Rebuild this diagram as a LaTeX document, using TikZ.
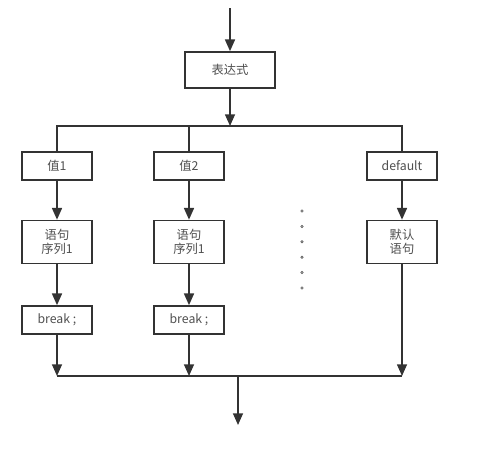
\documentclass[tikz,border=0pt]{standalone}
\usepackage{fontspec}
\setmainfont{Noto Sans CJK SC}
\usepackage{tikz}
\usetikzlibrary{arrows.meta,positioning}
\definecolor{linegray}{RGB}{51,51,51}
\definecolor{textgray}{RGB}{80,80,80}

\begin{document}
\begin{tikzpicture}[x=0.03cm, y=-0.03cm,
  box/.style={rectangle, draw=linegray, line width=1.4pt, fill=white,
              minimum width=2.1cm, minimum height=0.84cm, inner sep=0pt,
              font=\fontsize{10.5}{12.5}\selectfont, text=textgray, align=center},
  tall/.style={box, minimum height=1.29cm},
  flow/.style={draw=linegray, line width=1.4pt,
               -{Triangle[length=10pt, width=8.5pt]}},
  bar/.style={draw=linegray, line width=1.4pt},
]
  \useasboundingbox (0,0) rectangle (487,473);

  % Top
  \coordinate (in) at (230,8);
  \node[box, minimum width=2.7cm, minimum height=1.08cm] (expr) at (230,70) {表达式};
  \coordinate (split) at (230,126);
  \draw[flow] (in) -- (expr);
  \draw[flow] (expr) -- (split);

  % Cases
  \node[box] (v1) at (57,166) {值1};
  \node[box] (v2) at (189,166) {值2};
  \node[box] (dflt) at (402,166) {default};

  \node[tall] (s1) at (57,242) {语句\\序列1};
  \node[tall] (s2) at (189,242) {语句\\序列1};
  \node[tall] (ds) at (402,242) {默认\\语句};

  \node[box] (b1) at (57,320) {break ;};
  \node[box] (b2) at (189,320) {break ;};

  \draw[bar] (v1.north) -- (v1.north |- split) -- (dflt.north |- split) -- (dflt.north);
  \draw[bar] (v2.north) -- (v2.north |- split);

  \draw[flow] (v1) -- (s1);
  \draw[flow] (v2) -- (s2);
  \draw[flow] (dflt) -- (ds);
  \draw[flow] (s1) -- (b1);
  \draw[flow] (s2) -- (b2);

  % ...
  \foreach \i in {0,...,5}
    \draw[textgray, line width=0.5pt] (302,{211+15.4*\i}) circle (1.2);

  % Bottom
  \coordinate (merge) at (238,376);
  \coordinate (out) at (238,425);
  \draw[flow] (b1) -- (b1 |- merge);
  \draw[flow] (b2) -- (b2 |- merge);
  \draw[flow] (ds) -- (ds |- merge);
  \draw[bar] (b1 |- merge) -- (ds |- merge);
  \draw[flow] (merge) -- (out);
\end{tikzpicture}
\end{document}
